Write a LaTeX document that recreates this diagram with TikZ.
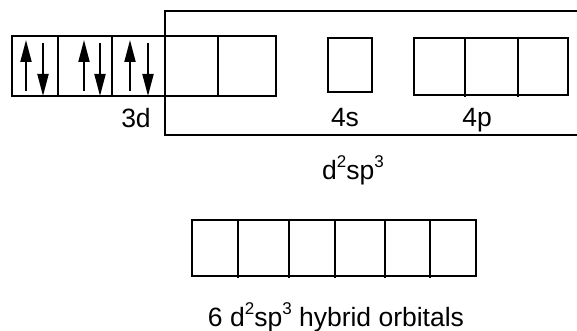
\documentclass[tikz,border=0pt]{standalone}
\usepackage{fontspec}
\setmainfont{Liberation Sans}
\usetikzlibrary{arrows.meta}
\newcommand{\supnum}[1]{\raisebox{0.42em}{\fontsize{17}{19}\selectfont #1}}

\begin{document}
\begin{tikzpicture}[x=1pt,y=-1pt,line width=1.1pt,
  spin/.style={line width=1.9pt,-{Triangle[length=22pt,width=11pt]}},
  lbl/.style={anchor=base,font=\fontsize{26.5}{31}\selectfont}]
\useasboundingbox (0,0) rectangle (577,331);
% 3d boxes with paired electrons
\draw (12,36) rectangle (276,96);
\foreach \x in {58,112,165,218} \draw (\x,36) -- (\x,96);
\foreach \x in {26,84,130} \draw[spin] (\x,91) -- (\x,40);
\foreach \x in {43,100,148} \draw[spin] (\x,43) -- (\x,96);
% 4s and 4p
\draw (328,38) rectangle (372,92);
\draw (414,38) rectangle (568,95);
\foreach \x in {465,518} \draw (\x,38) -- (\x,97);
% bracket of the mixed orbitals
\draw (577,11) -- (165,11) -- (165,135) -- (577,135);
\node[lbl] (l3d) at (136,128) {3d};
\node[lbl] (l4s) at (345,127) {4s};
\node[lbl] (l4p) at (477,127) {4p};
\node[lbl] (lmix) at (353,179) {d\supnum{2}sp\supnum{3}};
% hybrid orbitals
\draw (192,220) rectangle (476,276);
\foreach \x in {238,289,335,385,430} \draw (\x,220) -- (\x,278);
\node[lbl] (lhyb) at (336,326) {6 d\supnum{2}sp\supnum{3} hybrid orbitals};
\end{tikzpicture}
\end{document}
